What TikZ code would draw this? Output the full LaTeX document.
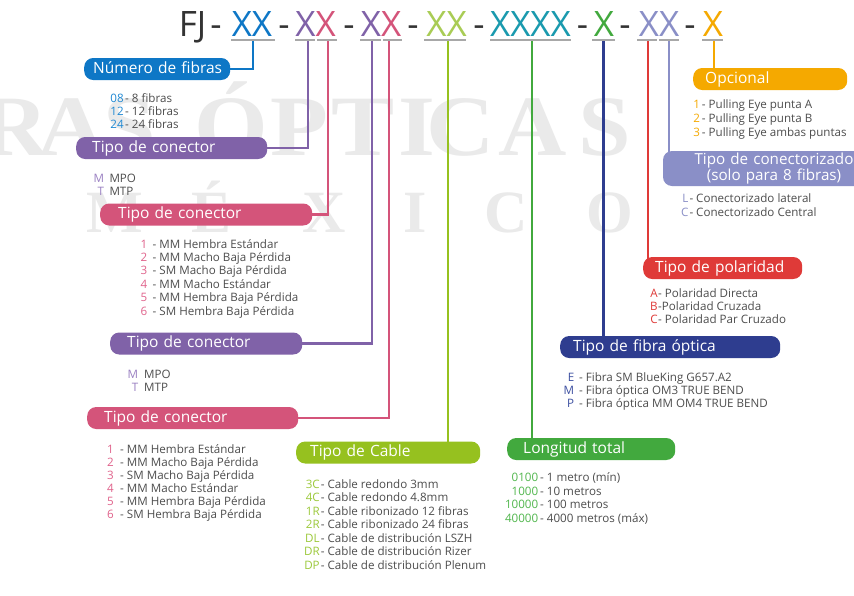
\documentclass[tikz,border=0pt]{standalone}
\usepackage{fontspec}
\setmainfont{Open Sans}
\newfontfamily\wmfont{Liberation Serif}
\usetikzlibrary{backgrounds}
\definecolor{cBlue}{HTML}{0E77C6}
\definecolor{cBlueL}{HTML}{2089D3}
\definecolor{cPur}{HTML}{8062A8}
\definecolor{cPurL}{HTML}{9A80C2}
\definecolor{cPink}{HTML}{D4547A}
\definecolor{cPinkL}{HTML}{E0628B}
\definecolor{cYg}{HTML}{96C11F}
\definecolor{cYgH}{HTML}{A9CC55}
\definecolor{cYgL}{HTML}{9CC93B}
\definecolor{cTeal}{HTML}{1A9AAE}
\definecolor{cGreen}{HTML}{42A93E}
\definecolor{cGreenL}{HTML}{52B74E}
\definecolor{cDBlue}{HTML}{2E3D8F}
\definecolor{cDBlueL}{HTML}{3B4EA0}
\definecolor{cRed}{HTML}{DF3A38}
\definecolor{cLav}{HTML}{8A8FC7}
\definecolor{cOrange}{HTML}{F5A900}
\definecolor{cTxt}{HTML}{4D4D4D}
\definecolor{cDark}{HTML}{333333}
\definecolor{cUl}{HTML}{A8A8A8}
\definecolor{cWm}{HTML}{EAEAEA}
\newcommand\lcode[3]{\llap{\textcolor{#1}{#2}\kern#3}}
\tikzset{
  pillbase/.style={fill=#1, rounded corners=9pt, text=white, inner ysep=0pt,
    font=\fontsize{15.5}{17}\selectfont},
  pill/.style={pillbase=#1, minimum height=22pt, text height=11.5pt, text depth=3.5pt,
    anchor=west, align=left},
  lst/.style={anchor=base west, inner sep=0pt, text=cTxt},
  hdr/.style={anchor=base, inner sep=0pt, font=\fontsize{35}{40}\selectfont},
  ul/.style={line width=2.6pt, draw=cUl},
  conn/.style={line width=2.3pt},
  wmA/.style={anchor=base, inner sep=0pt, text=cWm, font=\wmfont\bfseries\fontsize{86}{90}\selectfont},
  wmB/.style={anchor=base, inner sep=0pt, text=cWm, font=\wmfont\bfseries\fontsize{60}{64}\selectfont},
}
\begin{document}
\begin{tikzpicture}[x=1pt,y=-1pt]
\useasboundingbox (0,0) rectangle (854,595);

% background and watermark
\begin{scope}[on background layer]
\fill[white] (0,0) rectangle (854,595);
\foreach \l/\x [count=\i] in {R/15,A/71.5,S/130,Ó/231,P/299,T/363,I/417,C/461,A/533,S/605}
  \node[wmA] (wa\i) at (\x,155) {\scalebox{1.1}[1]{\l}};
\foreach \l/\x [count=\i] in {M/115,É/212,X/324,I/415,C/506,O/610}
  \node[wmB] (wb\i) at (\x,232) {\l};
\end{scope}

% header
\node[hdr,text=cDark] (fj) at (192.5,36) {FJ};
\foreach \x [count=\i] in {216,284,349,413,479,582.5,625,690}
  \node[hdr,text=cDark] (d\i) at (\x,36) {-};
\node[hdr] (g1) at (252,36) {\textcolor{cBlue}{XX}};
\node[hdr] (g2) at (315.5,36) {\textcolor{cPur}{X}\textcolor{cPink}{X}};
\node[hdr] (g3) at (381,36) {\textcolor{cPur}{X}\textcolor{cPink}{X}};
\node[hdr] (g4) at (446.5,36) {\textcolor{cYgH}{XX}};
\node[hdr] (g5) at (530.5,36) {\textcolor{cTeal}{XXXX}};
\node[hdr] (g6) at (604,36) {\textcolor{cGreen}{X}};
\node[hdr] (g7) at (659,36) {\textcolor{cLav}{XX}};
\node[hdr] (g8) at (713,36) {\textcolor{cOrange}{X}};

% underlines
\foreach \a/\b in {231/275,295/315,317/337,360/381,383/402,424/466,490/571,592/615,637/657,659/679,702/723}
  \draw[ul] (\a,40) -- (\b,40);

% stem start points
\coordinate (s1) at (253,40);
\coordinate (s2) at (308,40);
\coordinate (s3) at (328,40);
\coordinate (s4) at (372,40);
\coordinate (s5) at (389,40);
\coordinate (s6) at (448,40);
\coordinate (s7) at (532,40);
\coordinate (s8) at (603.5,40);
\coordinate (s9) at (648,40);
\coordinate (s10) at (669,40);
\coordinate (s11) at (714,40);

% pills
\node[pill=cBlue, text width=128pt, inner xsep=9pt] (p1) at (84,69) {\mbox{Número de fibras}};
\node[pill=cPur, text width=159pt, inner xsep=16pt] (p2) at (76,148) {\mbox{Tipo de conector}};
\node[pill=cPink, text width=176pt, inner xsep=18pt] (p3) at (100,214.5) {\mbox{Tipo de conector}};
\node[pill=cPur, text width=158pt, inner xsep=17pt] (p4) at (110,343.5) {\mbox{Tipo de conector}};
\node[pill=cPink, text width=177pt, inner xsep=17pt] (p5) at (87,418) {\mbox{Tipo de conector}};
\node[pill=cYg, text width=156pt, inner xsep=14pt] (p6) at (296,452.5) {\mbox{Tipo de Cable}};
\node[pill=cGreen, text width=136pt, inner xsep=16pt] (p7) at (507,449) {\mbox{Longitud total}};
\node[pill=cDBlue, text width=194pt, inner xsep=13pt] (p8) at (560,347) {\mbox{Tipo de fibra óptica}};
\node[pill=cRed, text width=135pt, inner xsep=12pt] (p9) at (643,268) {\mbox{Tipo de polaridad}};
\node[pill=cOrange, text width=130pt, inner xsep=12pt] (p10) at (693,79) {\mbox{Opcional}};
\node[pillbase=cLav, minimum width=222pt, minimum height=35pt, text width=200pt,
  inner xsep=11pt, align=center, font=\fontsize{15.2}{13.3}\selectfont] (p11) at (774,168.5)
  {Tipo de conectorizado\\(solo para 8 fibras)};

% connectors
\begin{scope}[on background layer]
\draw[conn,cBlue] (s1) |- (p1.east);
\draw[conn,cPur] (s2) |- (p2.east);
\draw[conn,cPink] (s3) |- (p3.east);
\draw[conn,cPur] (s4) |- (p4.east);
\draw[conn,cPink] (s5) |- (p5.east);
\draw[conn,cYg] (s6) -- (s6 |- p6.center);
\draw[conn,cGreen] (s7) -- (s7 |- p7.center);
\draw[conn,cDBlue] (s8) -- (s8 |- p8.center);
\draw[conn,cRed] (s9) -- (s9 |- p9.center);
\draw[conn,cLav] (s10) -- (s10 |- p11.center);
\draw[conn,cOrange] (s11) -- (s11 |- p10.center);
\end{scope}

% lists
\node[lst, font=\fontsize{11.6}{13}\selectfont] (l1) at (125,102.5)
 {\begin{tabular}[t]{@{}l@{}}\lcode{cBlueL}{08}{1.5pt}- 8 fibras\\\lcode{cBlueL}{12}{1.5pt}- 12 fibras\\\lcode{cBlueL}{24}{1.5pt}- 24 fibras\end{tabular}};
\node[lst, font=\fontsize{11.6}{13}\selectfont] (l2) at (109.3,182)
 {\begin{tabular}[t]{@{}l@{}}\lcode{cPurL}{M}{5.5pt}MPO\\\lcode{cPurL}{T}{5.5pt}MTP\end{tabular}};
\node[lst, font=\fontsize{11.6}{13.4}\selectfont] (l3) at (152.5,248)
 {\begin{tabular}[t]{@{}l@{}}\lcode{cPinkL}{1}{5.5pt}- MM Hembra Estándar\\
 \lcode{cPinkL}{2}{5.5pt}- MM Macho Baja Pérdida\\
 \lcode{cPinkL}{3}{5.5pt}- SM Macho Baja Pérdida\\
 \lcode{cPinkL}{4}{5.5pt}- MM Macho Estándar\\
 \lcode{cPinkL}{5}{5.5pt}- MM Hembra Baja Pérdida\\
 \lcode{cPinkL}{6}{5.5pt}- SM Hembra Baja Pérdida\end{tabular}};
\node[lst, font=\fontsize{11.6}{13}\selectfont] (l4) at (144,378)
 {\begin{tabular}[t]{@{}l@{}}\lcode{cPurL}{M}{6pt}MPO\\\lcode{cPurL}{T}{6pt}MTP\end{tabular}};
\node[lst, font=\fontsize{11.6}{13}\selectfont] (l5) at (120,453)
 {\begin{tabular}[t]{@{}l@{}}\lcode{cPinkL}{1}{6.5pt}- MM Hembra Estándar\\
 \lcode{cPinkL}{2}{6.5pt}- MM Macho Baja Pérdida\\
 \lcode{cPinkL}{3}{6.5pt}- SM Macho Baja Pérdida\\
 \lcode{cPinkL}{4}{6.5pt}- MM Macho Estándar\\
 \lcode{cPinkL}{5}{6.5pt}- MM Hembra Baja Pérdida\\
 \lcode{cPinkL}{6}{6.5pt}- SM Hembra Baja Pérdida\end{tabular}};
\node[lst, font=\fontsize{11.6}{13.5}\selectfont] (l6) at (320.7,488)
 {\begin{tabular}[t]{@{}l@{}}\lcode{cYgL}{3C}{1.2pt}- Cable redondo 3mm\\
 \lcode{cYgL}{4C}{1.2pt}- Cable redondo 4.8mm\\
 \lcode{cYgL}{1R}{1.2pt}- Cable ribonizado 12 fibras\\
 \lcode{cYgL}{2R}{1.2pt}- Cable ribonizado 24 fibras\\
 \lcode{cYgL}{DL}{1.2pt}- Cable de distribución LSZH\\
 \lcode{cYgL}{DR}{1.2pt}- Cable de distribución Rizer\\
 \lcode{cYgL}{DP}{1.2pt}- Cable de distribución Plenum\end{tabular}};
\node[lst, font=\fontsize{11.6}{13.2}\selectfont] (l7) at (579,381)
 {\begin{tabular}[t]{@{}l@{}}\lcode{cDBlueL}{E}{5pt}- Fibra SM BlueKing G657.A2\\
 \lcode{cDBlueL}{M}{5pt}- Fibra óptica OM3 TRUE BEND\\
 \lcode{cDBlueL}{P}{5pt}- Fibra óptica MM OM4 TRUE BEND\end{tabular}};
\node[lst, font=\fontsize{11.6}{13.6}\selectfont] (l8) at (540,481.5)
 {\begin{tabular}[t]{@{}l@{}}\lcode{cGreenL}{0100}{2pt}- 1 metro (mín)\\
 \lcode{cGreenL}{1000}{2pt}- 10 metros\\
 \lcode{cGreenL}{10000}{2pt}- 100 metros\\
 \lcode{cGreenL}{40000}{2pt}- 4000 metros (máx)\end{tabular}};
\node[lst, font=\fontsize{11.6}{13.8}\selectfont] (l9) at (701.7,108.5)
 {\begin{tabular}[t]{@{}l@{}}\lcode{cOrange}{1}{2pt}- Pulling Eye punta A\\
 \lcode{cOrange}{2}{2pt}- Pulling Eye punta B\\
 \lcode{cOrange}{3}{2pt}- Pulling Eye ambas puntas\end{tabular}};
\node[lst, font=\fontsize{11.6}{14}\selectfont] (l10) at (689.3,202)
 {\begin{tabular}[t]{@{}l@{}}\lcode{cLav}{L}{1pt}- Conectorizado lateral\\
 \lcode{cLav}{C}{1pt}- Conectorizado Central\end{tabular}};
\node[lst, font=\fontsize{11.6}{13}\selectfont] (l11) at (658,297.5)
 {\begin{tabular}[t]{@{}l@{}}\lcode{cRed}{A}{0.5pt}- Polaridad Directa\\
 \lcode{cRed}{B}{0.5pt}-Polaridad Cruzada\\
 \lcode{cRed}{C}{0.5pt}- Polaridad Par Cruzado\end{tabular}};
\end{tikzpicture}
\end{document}
